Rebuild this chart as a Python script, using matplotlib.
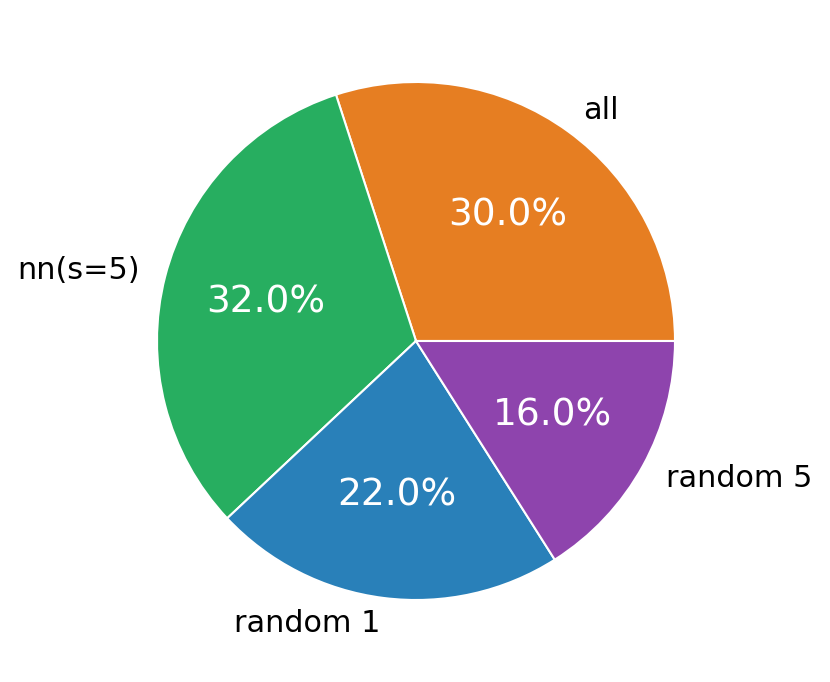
import matplotlib
matplotlib.use("Agg")
import matplotlib.pyplot as plt

labels = ["all", "nn(s=5)", "random 1", "random 5"]
shares = [30.0, 32.0, 22.0, 16.0]
colors = ["#e67e22", "#27ae60", "#2980b9", "#8e44ad"]

W, H = 830, 682
cx, cy, r = 416, 682 - 341, 259
lim = 1.2
half = lim * r

fig = plt.figure(figsize=(W / 100, H / 100), dpi=100)
ax = fig.add_axes([(cx - half) / W, (cy - half) / H, 2 * half / W, 2 * half / H])

wedges, texts, autotexts = ax.pie(
    shares, labels=labels, colors=colors, autopct="%1.1f%%",
    startangle=0, counterclock=True,
    wedgeprops=dict(edgecolor="white", linewidth=1.5),
    textprops=dict(fontsize=21.8),
)
for t in autotexts:
    t.set_color("white")
    t.set_fontsize(27)

ax.set_xlim(-lim, lim)
ax.set_ylim(-lim, lim)
ax.set_aspect("equal")

fig.savefig("out.png", dpi=100, facecolor="white")
